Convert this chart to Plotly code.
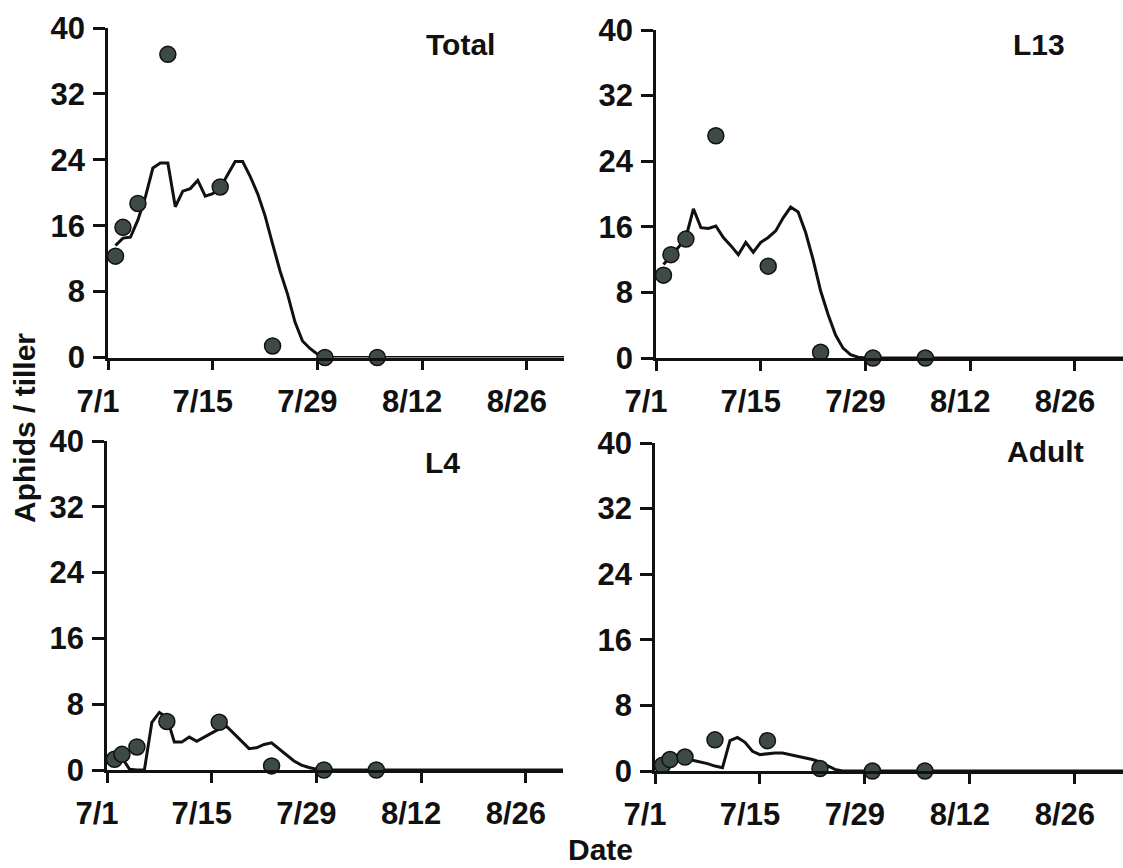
import plotly.graph_objects as go
import pandas as pd

# ---------------- data ----------------
panel_names = ["Total", "L13", "L4", "Adult"]

obs_dates = ["2004-07-02", "2004-07-03", "2004-07-05", "2004-07-09",
             "2004-07-16", "2004-07-23", "2004-07-30", "2004-08-06"]
total_obs = [12.3, 15.8, 18.7, 36.8, 20.7, 1.4, 0.0, 0.0]
l13_obs = [10.1, 12.6, 14.5, 27.1, 11.2, 0.7, 0.0, 0.0]
l4_obs = [1.3, 1.9, 2.8, 5.9, 5.8, 0.5, 0.0, 0.0]
adult_obs = [0.7, 1.4, 1.7, 3.8, 3.7, 0.3, 0.0, 0.0]

# simulated (daily) values, 7/2 ... 7/31, then zero until the end of the season
model_dates = [d.strftime("%Y-%m-%d") for d in pd.date_range("2004-07-02", "2004-07-31")] + ["2004-09-02"]
total_model = [13.6, 14.5, 14.6, 16.7, 19.5, 23.0, 23.6, 23.6, 18.3, 20.2,
               20.5, 21.5, 19.6, 19.9, 20.6, 22.2, 23.8, 23.8, 22.0, 19.9,
               17.2, 13.8, 10.5, 7.7, 4.3, 2.0, 1.1, 0.4, 0.05, 0.0, 0.0]
l13_model = [11.4, 12.4, 13.5, 14.7, 18.2, 15.9, 15.8, 16.1, 14.7, 13.7,
             12.6, 14.1, 12.9, 14.1, 14.7, 15.5, 17.1, 18.4, 17.8, 15.3,
             12.0, 8.2, 5.3, 2.8, 1.2, 0.4, 0.1, 0.0, 0.0, 0.0, 0.0]
l4_model = [1.3, 1.5, 0.1, 0.0, 0.0, 5.8, 7.0, 6.4, 3.4, 3.4,
            4.0, 3.5, 4.0, 4.5, 5.0, 5.3, 4.4, 3.4, 2.6, 2.7,
            3.1, 3.3, 2.6, 1.8, 1.1, 0.6, 0.3, 0.1, 0.05, 0.0, 0.0]
adult_model = [1.1, 1.3, 1.4, 1.5, 1.3, 1.1, 0.9, 0.6, 0.4, 3.7,
               4.1, 3.5, 2.4, 2.0, 2.1, 2.2, 2.2, 2.0, 1.8, 1.6,
               1.4, 1.1, 0.6, 0.2, 0.0, 0.0, 0.0, 0.0, 0.0, 0.0, 0.0]

x_tickvals = ["2004-07-01", "2004-07-15", "2004-07-29", "2004-08-12", "2004-08-26"]
x_ticktext = ["7/1", "7/15", "7/29", "8/12", "8/26"]
y_tickvals = [0, 8, 16, 24, 32, 40]

obs_list = [total_obs, l13_obs, l4_obs, adult_obs]
model_list = [total_model, l13_model, l4_model, adult_model]

# ---------------- figure ----------------
W, H = 1123, 868
FONT = "Liberation Sans, Arial, sans-serif"
INK = "#111111"

fig = go.Figure()

x_domains = [[108 / W, 564 / W], [656 / W, 1.0], [107 / W, 563 / W], [655 / W, 1.0]]
y_domains = [[(H - 357.5) / H, (H - 28) / H], [(H - 358) / H, (H - 30) / H],
             [(H - 770) / H, (H - 441) / H], [(H - 771) / H, (H - 443) / H]]
x_end = ["2004-08-30 23:00", "2004-09-01 10:00", "2004-08-30 23:00", "2004-09-01 10:00"]

for i in range(4):
    sfx = "" if i == 0 else str(i + 1)
    fig.add_trace(go.Scatter(x=model_dates, y=model_list[i], mode="lines",
                             line=dict(color=INK, width=3),
                             xaxis="x" + sfx, yaxis="y" + sfx,
                             showlegend=False, cliponaxis=False))
    fig.add_trace(go.Scatter(x=obs_dates, y=obs_list[i], mode="markers",
                             marker=dict(size=16, color="#3d4b44",
                                         line=dict(color=INK, width=1.5)),
                             xaxis="x" + sfx, yaxis="y" + sfx,
                             showlegend=False, cliponaxis=False))

    xa = dict(domain=x_domains[i], anchor="y" + sfx, type="date", automargin=False,
              range=["2004-07-01", x_end[i]],
              tickmode="array", tickvals=x_tickvals, ticktext=x_ticktext,
              showline=True, linecolor=INK, linewidth=2.8,
              ticks="outside", ticklen=10, tickwidth=2.8, tickcolor=INK,
              showgrid=False, zeroline=False,
              ticklabelshift=-10, ticklabelstandoff=4,
              tickfont=dict(family=FONT, size=31, color=INK, weight="bold"))
    ya = dict(domain=y_domains[i], anchor="x" + sfx, range=[0, 40], automargin=False,
              tickmode="array", tickvals=y_tickvals,
              showline=True, linecolor=INK, linewidth=2.8,
              ticks="outside", ticklen=12, tickwidth=2.8, tickcolor=INK,
              showgrid=False, zeroline=False, ticklabelstandoff=2,
              tickfont=dict(family=FONT, size=31, color=INK, weight="bold"))
    fig.layout["xaxis" + sfx] = xa
    fig.layout["yaxis" + sfx] = ya

label_pos = [(460, 44), (1039, 44), (442, 462), (1045, 452)]
for name, (px, py) in zip(panel_names, label_pos):
    fig.add_annotation(text=name, x=px / W, y=1 - py / H, xref="paper", yref="paper",
                       xanchor="center", yanchor="middle", showarrow=False,
                       font=dict(family=FONT, size=30, color=INK, weight="bold"))

fig.add_annotation(text="Aphids / tiller", x=24 / W, y=1 - 428 / H, xref="paper", yref="paper",
                   xanchor="center", yanchor="middle", textangle=-90, showarrow=False,
                   font=dict(family=FONT, size=30, color=INK, weight="bold"))
fig.add_annotation(text="Date", x=600 / W, y=1 - 849 / H, xref="paper", yref="paper",
                   xanchor="center", yanchor="middle", showarrow=False,
                   font=dict(family=FONT, size=30, color=INK, weight="bold"))

fig.update_layout(width=W, height=H, margin=dict(l=0, r=0, t=0, b=0),
                  paper_bgcolor="white", plot_bgcolor="white")

fig.write_html("out.html")
